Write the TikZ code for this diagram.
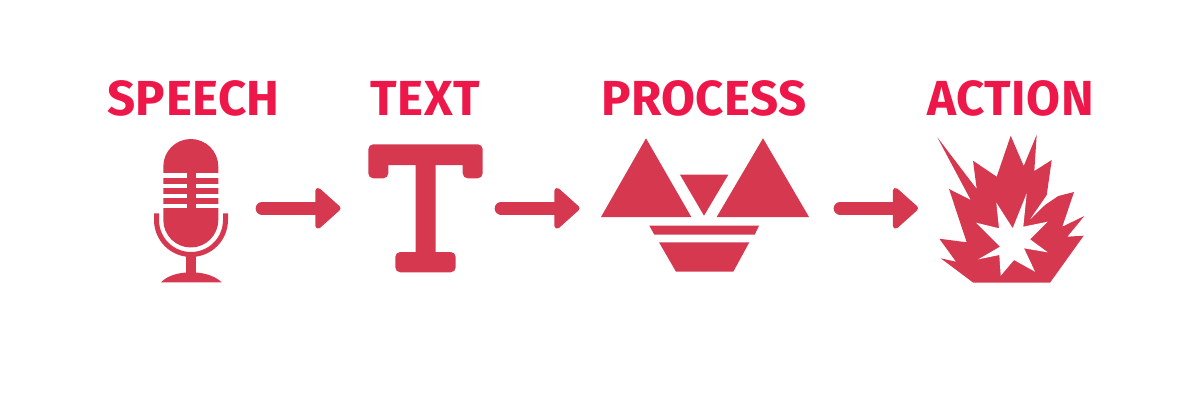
\documentclass[tikz,border=0pt]{standalone}
\usepackage{fontspec}
\setmainfont{Fira Sans}[BoldFont={Fira Sans Bold},LetterSpace=1]
\usetikzlibrary{arrows.meta}
\definecolor{iconred}{HTML}{D63850}
\definecolor{titlered}{HTML}{EE174A}
\tikzset{
  title/.style={text=titlered,font=\fontsize{35}{38}\selectfont\bfseries,inner sep=0pt},
  flow/.style={draw=iconred,line width=9pt,line cap=round,
    -{Triangle[length=19pt,width=33pt,round,line width=4pt]}}
}

\begin{document}
\begin{tikzpicture}[x=0.025cm,y=-0.025cm]
\useasboundingbox (0,0) rectangle (1200,400);

%titles
\node[title] (speech) at (193.5,98.5) {SPEECH};
\node[title] (text) at (425.5,98.5) {TEXT};
\node[title] (process) at (704,98.5) {PROCESS};
\node[title] (action) at (1010.5,98.5) {ACTION};

%microphone
\fill[iconred] (163.3,166.5) arc[start angle=180,end angle=360,radius=27.5]
  -- (218.3,220) arc[start angle=0,end angle=180,radius=27.5] -- cycle;
\foreach \ya/\yb in {173.3/178.3,184/188.3,194/198.3,204/208.3}{
  \fill[white] (163,\ya) rectangle (186.7,\yb);
  \fill[white] (196,\ya) rectangle (219,\yb);
}
\fill[iconred] (154,213.3) -- (154,220) arc[start angle=180,end angle=0,radius=37]
  -- (228,213.3) -- (223,213.3) -- (223,220) arc[start angle=0,end angle=180,radius=32]
  -- (159,213.3) -- cycle;
\fill[iconred] (186,256) rectangle (196,274);
\fill[iconred] (161,282.3) .. controls (168,275) and (180,272.3) .. (191,272.3)
  .. controls (202,272.3) and (214,275) .. (221.7,282.3) -- cycle;

%letter T
\fill[iconred] (368.3,165) [rounded corners=3.5pt] -- (368.3,144.3) -- (482.7,144.3) -- (482.7,178.3)
  -- (462.7,178.3) [sharp corners] -- (462.7,165) -- (435.7,165) -- (435.7,252)
  [rounded corners=3.5pt] -- (455.7,252) -- (455.7,272.3) -- (395.3,272.3) -- (395.3,252)
  [sharp corners] -- (415.7,252) -- (415.7,165) -- (388.3,165) [rounded corners=3.5pt] -- (388.3,178.3)
  -- (368.3,178.3) [sharp corners] -- cycle;

%triangles
\fill[iconred] (646,138.3) -- (691.3,217) -- (601,217) -- cycle;
\fill[iconred] (763,138.3) -- (809,217) -- (716.7,217) -- cycle;
\fill[iconred] (680,174.7) -- (728.3,174.7) -- (704,215.7) -- cycle;
\fill[iconred] (649.3,225.7) -- (759,225.7) -- (754.7,234.7) -- (654.3,234.7) -- cycle;
\fill[iconred] (659,242.3) -- (749.3,242.3) -- (733.3,271.7) -- (676,271.7) -- cycle;

%explosion
\fill[iconred] (937.3,137.3) -- (976.7,189) -- (973,160.7) -- (996.7,176.7) -- (1010.7,135.7)
  -- (1023.7,166) -- (1036.7,134.7) -- (1034.3,171) -- (1051.7,160) -- (1046.7,195) -- (1029,220.7)
  -- (1045,205) -- (1058.3,196) -- (1074,192) -- (1062.3,226.7) -- (1084.3,216) -- (1067.3,236.7)
  -- (1083.7,235.7) -- (1050,282.7) -- (973.3,282.7) -- (940.7,258.3) -- (956,261.7) -- (939.3,238.7)
  -- (966.7,242.3) -- (949,189) -- (970.7,200) -- cycle;
\fill[white] (1026.7,193.3) -- (1023.3,226.7) -- (1047.7,221.7) -- (1030,239.3) -- (1047.7,252.3)
  -- (1024,248.3) -- (1035,271.7) -- (1014,260) -- (1000.7,275.7) -- (999.3,255) -- (978.3,259.3)
  -- (1000,246.7) -- (976,222.7) -- (999,228.3) -- (996.3,202.7) -- (1012.7,228.3) -- cycle;

%arrows
\coordinate (micout) at (262,208.3);
\coordinate (textin) at (340.5,208.3);
\coordinate (textout) at (501,208.3);
\coordinate (procin) at (579.5,208.3);
\coordinate (procout) at (840,208.3);
\coordinate (boomin) at (918,208.3);
\draw[flow] (micout) -- (textin);
\draw[flow] (textout) -- (procin);
\draw[flow] (procout) -- (boomin);

\end{tikzpicture}
\end{document}
